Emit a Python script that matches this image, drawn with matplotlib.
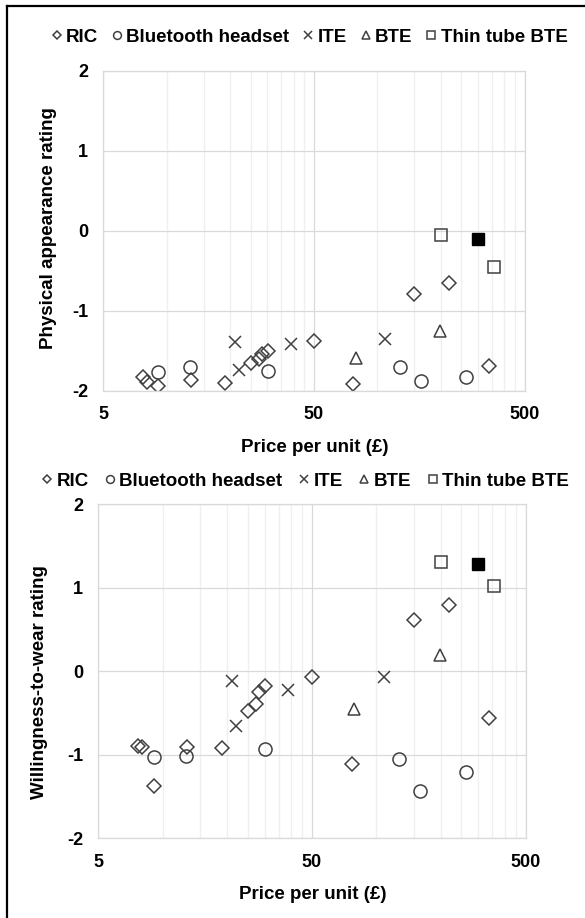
import matplotlib
matplotlib.use("Agg")
import matplotlib.pyplot as plt
from matplotlib.lines import Line2D
from matplotlib.ticker import FixedLocator, FixedFormatter, NullFormatter

plt.rcParams['font.family'] = ['Liberation Sans', 'DejaVu Sans']
plt.rcParams['font.weight'] = 'bold'

# Price per unit (GBP) and mean ratings for each device type
price_ric = [7.7, 8.05, 9.1, 13.0, 19.0, 25.0, 27.5, 28.3, 30.2, 50.0, 77.0, 150.0, 220.0, 338.0]
appear_ric = [-1.83, -1.89, -1.94, -1.87, -1.90, -1.66, -1.60, -1.54, -1.50, -1.38, -1.91, -0.79, -0.66, -1.69]
wear_ric = [-0.89, -0.91, -1.37, -0.91, -0.92, -0.47, -0.39, -0.25, -0.17, -0.07, -1.11, 0.61, 0.79, -0.56]

price_bt = [9.1, 12.9, 30.2, 128.0, 161.0, 263.0]
appear_bt = [-1.77, -1.71, -1.75, -1.70, -1.88, -1.83]
wear_bt = [-1.03, -1.01, -0.93, -1.05, -1.43, -1.20]

price_ite = [21.2, 22.0, 38.8, 109.0]
appear_ite = [-1.39, -1.74, -1.42, -1.35]
wear_ite = [-0.11, -0.65, -0.22, -0.07]

price_bte = [79.0, 198.0]
appear_bte = [-1.59, -1.26]
wear_bte = [-0.45, 0.20]

price_thin = [200.0, 357.0]
appear_thin = [-0.06, -0.45]
wear_thin = [1.31, 1.02]

price_highlight = [300.0]
appear_highlight = [-0.11]
wear_highlight = [1.28]

series_labels = ["RIC", "Bluetooth headset", "ITE", "BTE", "Thin tube BTE"]
x_major = [5, 50, 500]
x_minor = [10, 15, 20, 25, 30, 35, 40, 45, 100, 150, 200, 250, 300, 350, 400, 450]
y_ticks = [-2, -1, 0, 1, 2]

EDGE = "#404040"
MAJOR_GRID = "#d9d9d9"
MINOR_GRID = "#efefef"

fig = plt.figure(figsize=(5.85, 9.18), dpi=100)


def draw_panel(ax, ric, bt, ite, bte, thin, hl, ylabel):
    style = dict(linestyle="none", markerfacecolor="none", markeredgecolor=EDGE,
                 markeredgewidth=1.1)
    h1, = ax.plot(price_ric, ric, marker="D", markersize=7.4, label=series_labels[0], **style)
    h2, = ax.plot(price_bt, bt, marker="o", markersize=9.4, label=series_labels[1], **style)
    h3, = ax.plot(price_ite, ite, marker="x", markersize=9.0, linestyle="none",
                  color=EDGE, markeredgewidth=1.1, label=series_labels[2])
    h4, = ax.plot(price_bte, bte, marker="^", markersize=8.6, label=series_labels[3], **style)
    h5, = ax.plot(price_thin, thin, marker="s", markersize=9.0, label=series_labels[4], **style)
    ax.plot(price_highlight, hl, marker="s", markersize=9.0, linestyle="none",
            color="black", markeredgecolor="black", label="_nolegend_")

    ax.set_xscale("log")
    ax.set_xlim(5, 500)
    ax.set_ylim(-2, 2)
    ax.xaxis.set_major_locator(FixedLocator(x_major))
    ax.xaxis.set_major_formatter(FixedFormatter([str(v) for v in x_major]))
    ax.xaxis.set_minor_locator(FixedLocator(x_minor))
    ax.xaxis.set_minor_formatter(NullFormatter())
    ax.set_yticks(y_ticks)
    ax.set_yticklabels([str(v) for v in y_ticks])

    ax.grid(True, which="major", color=MAJOR_GRID, linewidth=0.9)
    ax.grid(True, which="minor", axis="x", color=MINOR_GRID, linewidth=0.9)
    ax.set_axisbelow(True)
    for sp in ax.spines.values():
        sp.set_color(MAJOR_GRID)
        sp.set_linewidth(0.9)
    ax.tick_params(which="both", length=0, labelsize=13, pad=11)
    for lab in ax.get_xticklabels() + ax.get_yticklabels():
        lab.set_fontweight("bold")

    ax.set_xlabel("Price per unit (£)", fontsize=13.5, fontweight="bold")
    ax.set_ylabel(ylabel, fontsize=13.5, fontweight="bold", va="center")
    return [h1, h2, h3, h4, h5]


ax1 = fig.add_axes([0.1766, 0.5744, 0.7200, 0.3486])
handles = draw_panel(ax1, appear_ric, appear_bt, appear_ite, appear_bte, appear_thin,
                     appear_highlight, "Physical appearance rating")
ax1.xaxis.set_label_coords(0.501, -0.152)
ax1.yaxis.set_label_coords(-0.130, 0.507)

ax2 = fig.add_axes([0.1680, 0.0868, 0.7303, 0.3638])
handles2 = draw_panel(ax2, wear_ric, wear_bt, wear_ite, wear_bte, wear_thin,
                      wear_highlight, "Willingness-to-wear rating")
ax2.xaxis.set_label_coords(0.501, -0.143)
ax2.yaxis.set_label_coords(-0.1365, 0.469)

legend_kw = dict(ncol=5, frameon=False, markerscale=0.6, handletextpad=0.1,
                 handlelength=0.8, borderaxespad=0,
                 prop={"weight": "bold", "size": 13.5})
fig.legend(handles=handles, loc="center", bbox_to_anchor=(0.527, 0.9595),
           columnspacing=0.6, **legend_kw)
fig.legend(handles=handles2, loc="center", bbox_to_anchor=(0.520, 0.4755),
           columnspacing=0.75, **legend_kw)

# Frame lines along the top and left edges of the figure
fig.add_artist(Line2D([7 / 585, 1.0], [1 - 6 / 918, 1 - 6 / 918], transform=fig.transFigure,
                      color="black", linewidth=1.6))
fig.add_artist(Line2D([7 / 585, 7 / 585], [0.0, 1 - 6 / 918], transform=fig.transFigure,
                      color="black", linewidth=1.6))

fig.savefig("out.png", dpi=100, facecolor="white")
